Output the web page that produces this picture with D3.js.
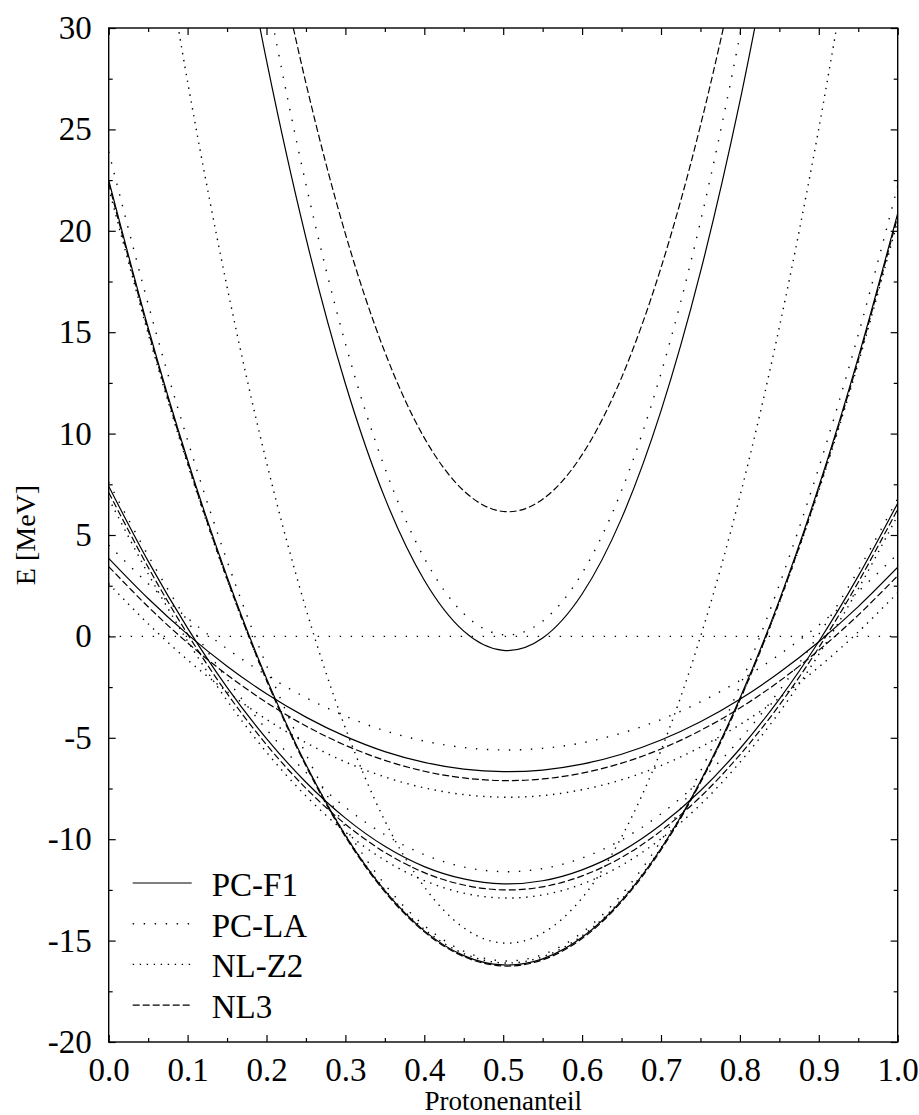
<!DOCTYPE html>
<html>
<head>
<meta charset="utf-8">
<script src="https://cdn.jsdelivr.net/npm/d3@7"></script>
<style>
  body { margin: 0; background: #fff; }
  text { font-family: "Liberation Serif", "Times New Roman", serif; fill: #000; }
</style>
</head>
<body>
<div id="chart"></div>
<script>
// proton fraction grids
var protonFraction = [0, 0.05, 0.1, 0.15, 0.2, 0.25, 0.3, 0.35, 0.4, 0.45, 0.5,
                      0.55, 0.6, 0.65, 0.7, 0.75, 0.8, 0.85, 0.9, 0.95, 1];
var innerFraction = [0.15, 0.2, 0.25, 0.3, 0.35, 0.4, 0.45, 0.5, 0.55, 0.6, 0.65, 0.7, 0.75, 0.8, 0.85];
var wideFraction = [0.05, 0.1, 0.15, 0.2, 0.25, 0.3, 0.35, 0.4, 0.45, 0.5,
                    0.55, 0.6, 0.65, 0.7, 0.75, 0.8, 0.85, 0.9, 0.95];

// PC-F1 (E in MeV)
var pcf1A = [22.50, 15.22, 8.70, 2.94, -2.07, -6.32, -9.81, -12.54, -14.52, -15.74, -16.20,
             -15.90, -14.84, -13.03, -10.46, -7.14, -3.05, 1.79, 7.39, 13.75, 20.86];
var pcf1B = [7.40, 3.71, 0.41, -2.51, -5.04, -7.19, -8.96, -10.35, -11.35, -11.96, -12.20,
             -12.05, -11.51, -10.60, -9.29, -7.61, -5.54, -3.09, -0.25, 2.97, 6.57];
var pcf1C = [3.85, 1.87, 0.10, -1.47, -2.83, -3.98, -4.93, -5.68, -6.21, -6.54, -6.67,
             -6.59, -6.30, -5.81, -5.11, -4.21, -3.10, -1.78, -0.26, 1.47, 3.41];
var pcf1D = [38.71, 28.40, 19.65, 12.46, 6.83, 2.77, 0.26, -0.69, -0.08, 2.09, 5.82, 11.12, 17.97, 26.38, 36.35];

// PC-LA
var pclaA = [23.90, 16.39, 9.67, 3.73, -1.43, -5.81, -9.41, -12.23, -14.26, -15.52, -16.00,
             -15.69, -14.60, -12.73, -10.08, -6.65, -2.44, 2.55, 8.32, 14.88, 22.21];
var pclaB = [7.60, 3.99, 0.75, -2.11, -4.59, -6.70, -8.43, -9.78, -10.76, -11.37, -11.60,
             -11.45, -10.93, -10.03, -8.75, -7.10, -5.08, -2.67, 0.10, 3.26, 6.79];
var pclaC = [4.50, 2.60, 0.90, -0.61, -1.91, -3.02, -3.93, -4.65, -5.16, -5.48, -5.60,
             -5.52, -5.25, -4.77, -4.10, -3.23, -2.17, -0.90, 0.56, 2.22, 4.07];
var pclaD = [43.10, 31.85, 22.29, 14.44, 8.30, 3.86, 1.12, 0.08, 0.75, 3.12, 7.19, 12.97, 20.45, 29.64, 40.53];

// NL-Z2
var nlz2A = [22.10, 14.93, 8.49, 2.80, -2.15, -6.34, -9.79, -12.49, -14.44, -15.64, -16.10,
             -15.80, -14.76, -12.97, -10.43, -7.15, -3.12, 1.67, 7.19, 13.47, 20.50];
var nlz2B = [6.80, 3.09, -0.23, -3.16, -5.71, -7.87, -9.65, -11.04, -12.04, -12.66, -12.90,
             -12.75, -12.21, -11.29, -9.98, -8.29, -6.21, -3.74, -0.89, 2.34, 5.97];
var nlz2C = [2.60, 0.62, -1.16, -2.72, -4.09, -5.24, -6.19, -6.93, -7.47, -7.80, -7.93,
             -7.85, -7.56, -7.07, -6.37, -5.46, -4.35, -3.04, -1.51, 0.22, 2.15];
var nlz2D = [38.99, 27.35, 17.24, 8.59, 1.36, -4.52, -9.09, -12.35, -14.37, -15.12,
             -14.63, -12.90, -9.89, -5.62, -0.02, 6.91, 15.25, 25.04, 36.34];

// NL3
var nl3A = [22.35, 15.09, 8.58, 2.84, -2.16, -6.39, -9.88, -12.60, -14.57, -15.79, -16.25,
            -15.95, -14.90, -13.09, -10.53, -7.21, -3.14, 1.69, 7.28, 13.62, 20.71];
var nl3B = [7.10, 3.41, 0.11, -2.81, -5.34, -7.49, -9.26, -10.65, -11.65, -12.26, -12.50,
            -12.35, -11.81, -10.90, -9.59, -7.91, -5.84, -3.39, -0.55, 2.67, 6.27];
var nl3C = [3.44, 1.46, -0.32, -1.89, -3.26, -4.42, -5.37, -6.11, -6.65, -6.98, -7.11,
            -7.03, -6.74, -6.25, -5.55, -4.64, -3.53, -2.21, -0.68, 1.05, 2.99];
var nl3D = [46.97, 36.32, 27.28, 19.85, 14.02, 9.79, 7.18, 6.16, 6.76, 8.96, 12.76, 18.18, 25.19, 33.82, 44.05];

// axis ticks and legend
var xTicks = [0, 0.1, 0.2, 0.3, 0.4, 0.5, 0.6, 0.7, 0.8, 0.9, 1];
var xTickLabels = ["0.0", "0.1", "0.2", "0.3", "0.4", "0.5", "0.6", "0.7", "0.8", "0.9", "1.0"];
var xMinorTicks = [0.05, 0.15, 0.25, 0.35, 0.45, 0.55, 0.65, 0.75, 0.85, 0.95];
var yTicks = [-20, -15, -10, -5, 0, 5, 10, 15, 20, 25, 30];
var yTickLabels = ["-20", "-15", "-10", "-5", "0", "5", "10", "15", "20", "25", "30"];
var yMinorTicks = [-17.5, -12.5, -7.5, -2.5, 2.5, 7.5, 12.5, 17.5, 22.5, 27.5];
var legendNames = ["PC-F1", "PC-LA", "NL-Z2", "NL3"];

// line styles per model
var dash = {
  "PC-F1": null,
  "PC-LA": "1.4,9.6",
  "NL-Z2": "1.4,5.6",
  "NL3": "7,3"
};

var series = [
  {model: "PC-F1", xs: protonFraction, ys: pcf1A},
  {model: "PC-F1", xs: protonFraction, ys: pcf1B},
  {model: "PC-F1", xs: protonFraction, ys: pcf1C},
  {model: "PC-F1", xs: innerFraction, ys: pcf1D},
  {model: "PC-LA", xs: protonFraction, ys: pclaA},
  {model: "PC-LA", xs: protonFraction, ys: pclaB},
  {model: "PC-LA", xs: protonFraction, ys: pclaC},
  {model: "PC-LA", xs: innerFraction, ys: pclaD},
  {model: "NL-Z2", xs: protonFraction, ys: nlz2A},
  {model: "NL-Z2", xs: protonFraction, ys: nlz2B},
  {model: "NL-Z2", xs: protonFraction, ys: nlz2C},
  {model: "NL-Z2", xs: wideFraction, ys: nlz2D},
  {model: "NL3", xs: protonFraction, ys: nl3A},
  {model: "NL3", xs: protonFraction, ys: nl3B},
  {model: "NL3", xs: protonFraction, ys: nl3C},
  {model: "NL3", xs: innerFraction, ys: nl3D}
];

// set the dimensions and margins of the graph
var margin = {top: 28, right: 21.3, bottom: 73, left: 108.7},
    width = 919 - margin.left - margin.right,
    height = 1115 - margin.top - margin.bottom;

var svg = d3.select("#chart")
  .append("svg")
    .attr("width", 919)
    .attr("height", 1115)
  .append("g")
    .attr("transform", "translate(" + margin.left + "," + margin.top + ")");

var x = d3.scaleLinear().domain([0, 1]).range([0, width]);
var y = d3.scaleLinear().domain([-20, 30]).range([height, 0]);

svg.append("clipPath").attr("id", "plot-clip")
  .append("rect").attr("width", width).attr("height", height);

// axes with inward ticks, mirrored on top and right
function styleAxis(g) {
  g.select(".domain").remove();
  g.selectAll(".tick line").attr("stroke", "#000").attr("stroke-width", 1.2);
  g.selectAll("text").attr("font-size", 33).attr("font-family", "Liberation Serif, serif");
}

svg.append("g")
  .attr("transform", "translate(0," + height + ")")
  .call(d3.axisBottom(x).tickValues(xTicks).tickSize(-7).tickPadding(16)
    .tickFormat(function(d, i) { return xTickLabels[i]; }))
  .call(styleAxis);

svg.append("g")
  .attr("transform", "translate(0," + height + ")")
  .call(d3.axisBottom(x).tickValues(xMinorTicks).tickSize(-4).tickFormat(""))
  .call(styleAxis);

svg.append("g")
  .call(d3.axisTop(x).tickValues(xTicks).tickSize(-7).tickFormat(""))
  .call(styleAxis);
svg.append("g")
  .call(d3.axisTop(x).tickValues(xMinorTicks).tickSize(-4).tickFormat(""))
  .call(styleAxis);

svg.append("g")
  .call(d3.axisLeft(y).tickValues(yTicks).tickSize(-7).tickPadding(17)
    .tickFormat(function(d, i) { return yTickLabels[i]; }))
  .call(styleAxis);

svg.append("g")
  .call(d3.axisLeft(y).tickValues(yMinorTicks).tickSize(-4).tickFormat(""))
  .call(styleAxis);

svg.append("g")
  .attr("transform", "translate(" + width + ",0)")
  .call(d3.axisRight(y).tickValues(yTicks).tickSize(-7).tickFormat(""))
  .call(styleAxis);
svg.append("g")
  .attr("transform", "translate(" + width + ",0)")
  .call(d3.axisRight(y).tickValues(yMinorTicks).tickSize(-4).tickFormat(""))
  .call(styleAxis);

// zero line
svg.append("line")
  .attr("x1", x(0)).attr("x2", x(1))
  .attr("y1", y(0)).attr("y2", y(0))
  .attr("stroke", "#000")
  .attr("stroke-width", 1.3)
  .attr("stroke-dasharray", "1.4,9.6");

// curves
var line = d3.line()
  .x(function(d) { return x(d[0]); })
  .y(function(d) { return y(d[1]); })
  .curve(d3.curveCardinal);

svg.append("g")
  .attr("clip-path", "url(#plot-clip)")
  .selectAll("path")
  .data(series)
  .enter().append("path")
    .attr("d", function(d) { return line(d3.zip(d.xs, d.ys)); })
    .attr("fill", "none")
    .attr("stroke", "#000")
    .attr("stroke-width", function(d) { return dash[d.model] && d.model !== "NL3" ? 1.4 : 1.2; })
    .attr("stroke-dasharray", function(d) { return dash[d.model]; });

// frame
svg.append("rect")
  .attr("width", width)
  .attr("height", height)
  .attr("fill", "none")
  .attr("stroke", "#000")
  .attr("stroke-width", 1.4);

// legend
var legend = svg.append("g")
  .attr("transform", "translate(24," + 855 + ")");

legend.selectAll("line")
  .data(legendNames)
  .enter().append("line")
    .attr("x1", 0).attr("x2", 59)
    .attr("y1", function(d, i) { return i * 40.7; })
    .attr("y2", function(d, i) { return i * 40.7; })
    .attr("stroke", "#000")
    .attr("stroke-width", function(d) { return dash[d] && d !== "NL3" ? 1.4 : 1.2; })
    .attr("stroke-dasharray", function(d) { return dash[d]; });

legend.selectAll("text")
  .data(legendNames)
  .enter().append("text")
    .attr("x", 79)
    .attr("y", function(d, i) { return i * 40.7 + 13; })
    .attr("font-size", 33)
    .text(function(d) { return d; });

// axis labels
svg.append("text")
  .attr("x", width / 2)
  .attr("y", height + 68)
  .attr("text-anchor", "middle")
  .attr("font-size", 27)
  .text("Protonenanteil");

svg.append("text")
  .attr("transform", "translate(" + (35 - margin.left) + "," + (height / 2) + ") rotate(-90)")
  .attr("text-anchor", "middle")
  .attr("font-size", 28)
  .text("E [MeV]");
</script>
</body>
</html>
